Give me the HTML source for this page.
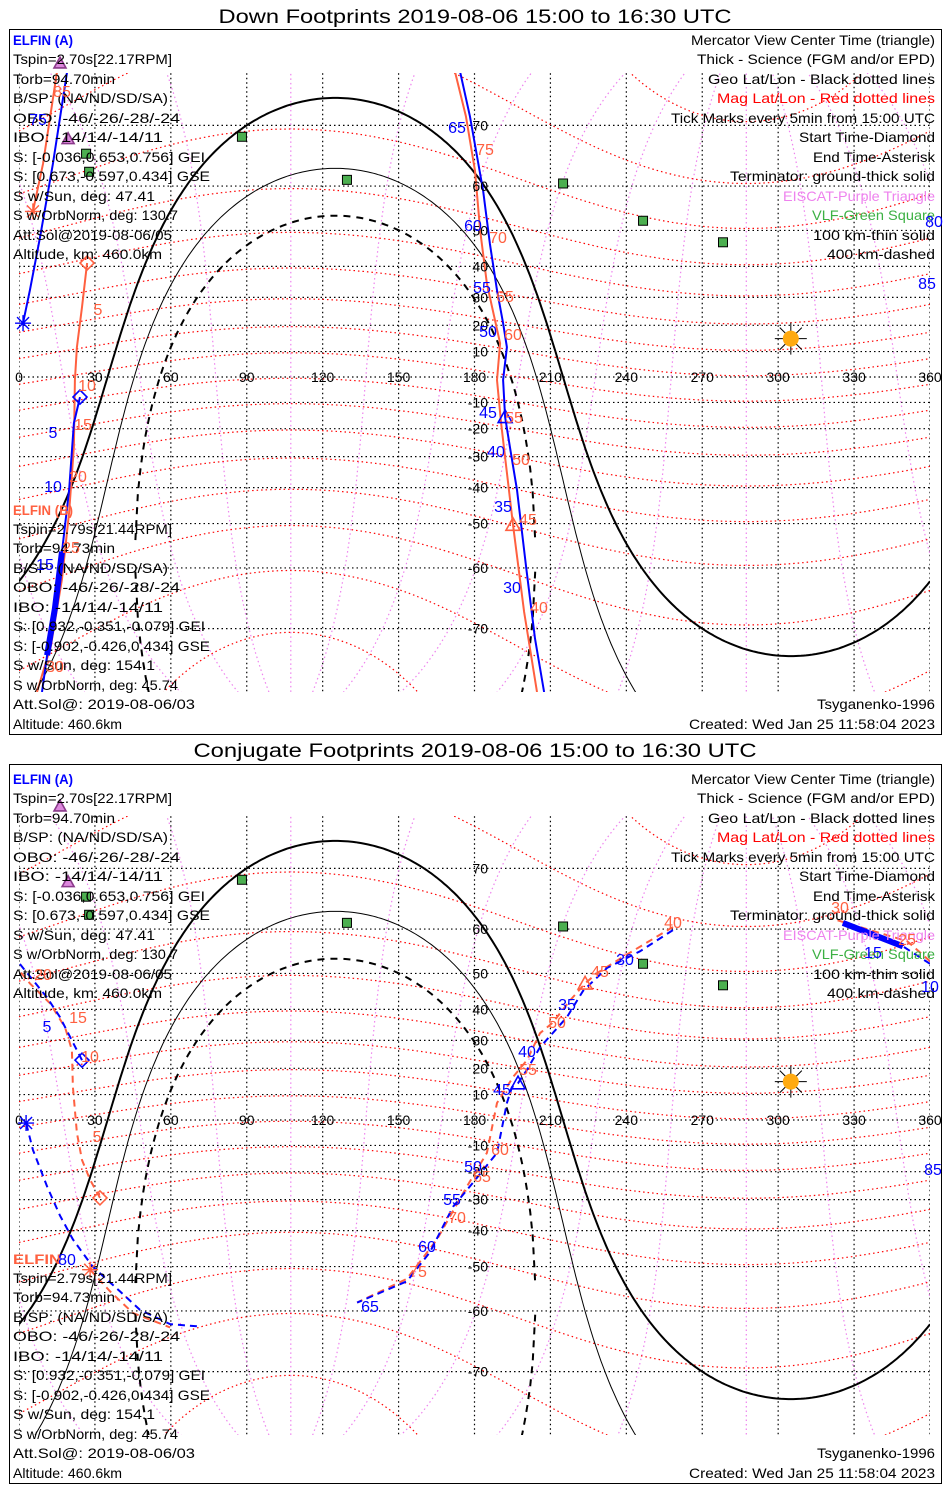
<!DOCTYPE html>
<html><head><meta charset="utf-8"><title>ELFIN Footprints</title>
<style>
html,body{margin:0;padding:0;background:#fff;}
svg{display:block;font-family:"Liberation Sans",sans-serif;}
.t{font-size:14px;}
.tk{font-size:16px;text-anchor:middle;}
.lat{font-size:14px;text-anchor:end;}
.lon{font-size:14px;text-anchor:middle;}
.b{fill:#0000ff;} .o{fill:#ff6040;}
</style></head>
<body>
<svg id="chart" width="950" height="1500" viewBox="0 0 950 1500" xmlns="http://www.w3.org/2000/svg">
<defs>
<clipPath id="clip1"><rect x="19" y="73" width="911" height="619"/></clipPath>
<clipPath id="clip2"><rect x="19" y="816" width="911" height="619"/></clipPath>
</defs>
<rect x="0" y="0" width="950" height="1500" fill="#fff"/>
<text x="475" y="23" font-size="19" text-anchor="middle" textLength="513" lengthAdjust="spacingAndGlyphs">Down Footprints 2019-08-06 15:00 to 16:30 UTC</text>
<rect x="9.5" y="29.5" width="932" height="705" fill="none" stroke="#000"/>
<text x="475" y="757" font-size="19" text-anchor="middle" textLength="563" lengthAdjust="spacingAndGlyphs">Conjugate Footprints 2019-08-06 15:00 to 16:30 UTC</text>
<rect x="9.5" y="764.5" width="932" height="719" fill="none" stroke="#000"/>
<g id="map1" clip-path="url(#clip1)"></g>
<g id="map2" clip-path="url(#clip2)"></g>
<g id="labels1"></g>
<g id="labels2"></g>
<g id="marks"></g>

<g class="t">
<text x="13" y="45" fill="#0000ff" font-weight="bold" textLength="60" lengthAdjust="spacingAndGlyphs">ELFIN (A)</text>
<text x="13" y="64" textLength="159" lengthAdjust="spacingAndGlyphs">Tspin=2.70s[22.17RPM]</text>
<text x="13" y="84" textLength="102" lengthAdjust="spacingAndGlyphs">Torb=94.70min</text>
<text x="13" y="103" textLength="155" lengthAdjust="spacingAndGlyphs">B/SP: (NA/ND/SD/SA)</text>
<text x="13" y="123" textLength="167" lengthAdjust="spacingAndGlyphs">OBO: -46/-26/-28/-24</text>
<text x="13" y="142" textLength="150" lengthAdjust="spacingAndGlyphs">IBO: -14/14/-14/11</text>
<text x="13" y="162" textLength="192" lengthAdjust="spacingAndGlyphs">S: [-0.036,0.653,0.756] GEI</text>
<text x="13" y="181" textLength="197" lengthAdjust="spacingAndGlyphs">S: [0.673,-0.597,0.434] GSE</text>
<text x="13" y="201" textLength="142" lengthAdjust="spacingAndGlyphs">S w/Sun, deg: 47.41</text>
<text x="13" y="220" textLength="165" lengthAdjust="spacingAndGlyphs">S w/OrbNorm, deg: 130.7</text>
<text x="13" y="240" textLength="159" lengthAdjust="spacingAndGlyphs">Att.Sol@2019-08-06/05</text>
<text x="13" y="259" textLength="149" lengthAdjust="spacingAndGlyphs">Altitude, km: 460.0km</text>
</g>
<g class="t">
<text x="13" y="515" fill="#ff6040" font-weight="bold" textLength="60" lengthAdjust="spacingAndGlyphs">ELFIN (B)</text>
<text x="13" y="534" textLength="159" lengthAdjust="spacingAndGlyphs">Tspin=2.79s[21.44RPM]</text>
<text x="13" y="553" textLength="102" lengthAdjust="spacingAndGlyphs">Torb=94.73min</text>
<text x="13" y="573" textLength="155" lengthAdjust="spacingAndGlyphs">B/SP: (NA/ND/SD/SA)</text>
<text x="13" y="592" textLength="167" lengthAdjust="spacingAndGlyphs">OBO: -46/-26/-28/-24</text>
<text x="13" y="612" textLength="150" lengthAdjust="spacingAndGlyphs">IBO: -14/14/-14/11</text>
<text x="13" y="631" textLength="192" lengthAdjust="spacingAndGlyphs">S: [0.932,-0.351,-0.079] GEI</text>
<text x="13" y="651" textLength="197" lengthAdjust="spacingAndGlyphs">S: [-0.902,-0.426,0.434] GSE</text>
<text x="13" y="670" textLength="142" lengthAdjust="spacingAndGlyphs">S w/Sun, deg: 154.1</text>
<text x="13" y="690" textLength="165" lengthAdjust="spacingAndGlyphs">S w/OrbNorm, deg: 45.74</text>
<text x="13" y="709" textLength="182" lengthAdjust="spacingAndGlyphs">Att.Sol@: 2019-08-06/03</text>
<text x="13" y="729" textLength="109" lengthAdjust="spacingAndGlyphs">Altitude: 460.6km</text>
</g>
<g class="t" text-anchor="end">
<text x="935" y="45" textLength="244" lengthAdjust="spacingAndGlyphs">Mercator View Center Time (triangle)</text>
<text x="935" y="64" textLength="238" lengthAdjust="spacingAndGlyphs">Thick - Science (FGM and/or EPD)</text>
<text x="935" y="84" textLength="227" lengthAdjust="spacingAndGlyphs">Geo Lat/Lon - Black dotted lines</text>
<text x="935" y="103" fill="#ff0000" textLength="218" lengthAdjust="spacingAndGlyphs">Mag Lat/Lon - Red dotted lines</text>
<text x="935" y="123" textLength="264" lengthAdjust="spacingAndGlyphs">Tick Marks every 5min from 15:00 UTC</text>
<text x="935" y="142" textLength="136" lengthAdjust="spacingAndGlyphs">Start Time-Diamond</text>
<text x="935" y="162" textLength="122" lengthAdjust="spacingAndGlyphs">End Time-Asterisk</text>
<text x="935" y="181" textLength="205" lengthAdjust="spacingAndGlyphs">Terminator: ground-thick solid</text>
<text x="935" y="201" fill="#ee82ee" textLength="152" lengthAdjust="spacingAndGlyphs">EISCAT-Purple Triangle</text>
<text x="935" y="220" fill="#3cb043" textLength="123" lengthAdjust="spacingAndGlyphs">VLF-Green Square</text>
<text x="935" y="240" textLength="122" lengthAdjust="spacingAndGlyphs">100 km-thin solid</text>
<text x="935" y="259" textLength="108" lengthAdjust="spacingAndGlyphs">400 km-dashed</text>
<text x="935" y="709" textLength="118" lengthAdjust="spacingAndGlyphs">Tsyganenko-1996</text>
<text x="935" y="729" textLength="246" lengthAdjust="spacingAndGlyphs">Created: Wed Jan 25 11:58:04 2023</text>
</g>

<g class="t">
<text x="13" y="784" fill="#0000ff" font-weight="bold" textLength="60" lengthAdjust="spacingAndGlyphs">ELFIN (A)</text>
<text x="13" y="803" textLength="159" lengthAdjust="spacingAndGlyphs">Tspin=2.70s[22.17RPM]</text>
<text x="13" y="823" textLength="102" lengthAdjust="spacingAndGlyphs">Torb=94.70min</text>
<text x="13" y="842" textLength="155" lengthAdjust="spacingAndGlyphs">B/SP: (NA/ND/SD/SA)</text>
<text x="13" y="862" textLength="167" lengthAdjust="spacingAndGlyphs">OBO: -46/-26/-28/-24</text>
<text x="13" y="881" textLength="150" lengthAdjust="spacingAndGlyphs">IBO: -14/14/-14/11</text>
<text x="13" y="901" textLength="192" lengthAdjust="spacingAndGlyphs">S: [-0.036,0.653,0.756] GEI</text>
<text x="13" y="920" textLength="197" lengthAdjust="spacingAndGlyphs">S: [0.673,-0.597,0.434] GSE</text>
<text x="13" y="940" textLength="142" lengthAdjust="spacingAndGlyphs">S w/Sun, deg: 47.41</text>
<text x="13" y="959" textLength="165" lengthAdjust="spacingAndGlyphs">S w/OrbNorm, deg: 130.7</text>
<text x="13" y="979" textLength="159" lengthAdjust="spacingAndGlyphs">Att.Sol@2019-08-06/05</text>
<text x="13" y="998" textLength="149" lengthAdjust="spacingAndGlyphs">Altitude, km: 460.0km</text>
</g>
<g class="t">
<text x="13" y="1264" fill="#ff6040" font-weight="bold" textLength="48" lengthAdjust="spacingAndGlyphs">ELFIN</text>
<text x="13" y="1283" textLength="159" lengthAdjust="spacingAndGlyphs">Tspin=2.79s[21.44RPM]</text>
<text x="13" y="1302" textLength="102" lengthAdjust="spacingAndGlyphs">Torb=94.73min</text>
<text x="13" y="1322" textLength="155" lengthAdjust="spacingAndGlyphs">B/SP: (NA/ND/SD/SA)</text>
<text x="13" y="1341" textLength="167" lengthAdjust="spacingAndGlyphs">OBO: -46/-26/-28/-24</text>
<text x="13" y="1361" textLength="150" lengthAdjust="spacingAndGlyphs">IBO: -14/14/-14/11</text>
<text x="13" y="1380" textLength="192" lengthAdjust="spacingAndGlyphs">S: [0.932,-0.351,-0.079] GEI</text>
<text x="13" y="1400" textLength="197" lengthAdjust="spacingAndGlyphs">S: [-0.902,-0.426,0.434] GSE</text>
<text x="13" y="1419" textLength="142" lengthAdjust="spacingAndGlyphs">S w/Sun, deg: 154.1</text>
<text x="13" y="1439" textLength="165" lengthAdjust="spacingAndGlyphs">S w/OrbNorm, deg: 45.74</text>
<text x="13" y="1458" textLength="182" lengthAdjust="spacingAndGlyphs">Att.Sol@: 2019-08-06/03</text>
<text x="13" y="1478" textLength="109" lengthAdjust="spacingAndGlyphs">Altitude: 460.6km</text>
</g>
<g class="t" text-anchor="end">
<text x="935" y="784" textLength="244" lengthAdjust="spacingAndGlyphs">Mercator View Center Time (triangle)</text>
<text x="935" y="803" textLength="238" lengthAdjust="spacingAndGlyphs">Thick - Science (FGM and/or EPD)</text>
<text x="935" y="823" textLength="227" lengthAdjust="spacingAndGlyphs">Geo Lat/Lon - Black dotted lines</text>
<text x="935" y="842" fill="#ff0000" textLength="218" lengthAdjust="spacingAndGlyphs">Mag Lat/Lon - Red dotted lines</text>
<text x="935" y="862" textLength="264" lengthAdjust="spacingAndGlyphs">Tick Marks every 5min from 15:00 UTC</text>
<text x="935" y="881" textLength="136" lengthAdjust="spacingAndGlyphs">Start Time-Diamond</text>
<text x="935" y="901" textLength="122" lengthAdjust="spacingAndGlyphs">End Time-Asterisk</text>
<text x="935" y="920" textLength="205" lengthAdjust="spacingAndGlyphs">Terminator: ground-thick solid</text>
<text x="935" y="940" fill="#ee82ee" textLength="152" lengthAdjust="spacingAndGlyphs">EISCAT-Purple Triangle</text>
<text x="935" y="959" fill="#3cb043" textLength="123" lengthAdjust="spacingAndGlyphs">VLF-Green Square</text>
<text x="935" y="979" textLength="122" lengthAdjust="spacingAndGlyphs">100 km-thin solid</text>
<text x="935" y="998" textLength="108" lengthAdjust="spacingAndGlyphs">400 km-dashed</text>
<text x="935" y="1458" textLength="118" lengthAdjust="spacingAndGlyphs">Tsyganenko-1996</text>
<text x="935" y="1478" textLength="246" lengthAdjust="spacingAndGlyphs">Created: Wed Jan 25 11:58:04 2023</text>
</g>

<g>
<text class="tk b" x="38" y="125">75</text><text class="tk b" x="457" y="133">65</text>
<text class="tk b" x="473" y="231">60</text><text class="tk b" x="482" y="293">55</text>
<text class="tk b" x="488" y="337">50</text><text class="tk b" x="488" y="418">45</text>
<text class="tk b" x="496" y="457">40</text><text class="tk b" x="503" y="512">35</text>
<text class="tk b" x="512" y="593">30</text><text class="tk b" x="934" y="227">80</text>
<text class="tk b" x="927" y="289">85</text><text class="tk b" x="53" y="438">5</text>
<text class="tk b" x="53" y="492">10</text><text class="tk b" x="45" y="570">15</text>
</g>
<g>
<text class="tk o" x="62" y="97">85</text><text class="tk o" x="98" y="315">5</text>
<text class="tk o" x="87" y="391">10</text><text class="tk o" x="83" y="430">15</text>
<text class="tk o" x="78" y="482">20</text><text class="tk o" x="71" y="553">25</text>
<text class="tk o" x="55" y="672">30</text><text class="tk o" x="485" y="155">75</text>
<text class="tk o" x="498" y="243">70</text><text class="tk o" x="505" y="302">65</text>
<text class="tk o" x="513" y="340">60</text><text class="tk o" x="514" y="423">55</text>
<text class="tk o" x="521" y="465">50</text><text class="tk o" x="528" y="525">45</text>
<text class="tk o" x="539" y="613">40</text>
</g>
<g>
<text class="tk b" x="47" y="1032">5</text><text class="tk b" x="67" y="1265">80</text>
<text class="tk b" x="933" y="1175">85</text><text class="tk b" x="930" y="992">10</text>
<text class="tk b" x="873" y="958">15</text><text class="tk b" x="625" y="965">30</text>
<text class="tk b" x="567" y="1010">35</text><text class="tk b" x="527" y="1057">40</text>
<text class="tk b" x="502" y="1095">45</text><text class="tk b" x="473" y="1172">50</text>
<text class="tk b" x="452" y="1205">55</text><text class="tk b" x="427" y="1252">60</text>
<text class="tk b" x="370" y="1312">65</text>
</g>
<g>
<text class="tk o" x="43" y="980">20</text><text class="tk o" x="78" y="1023">15</text>
<text class="tk o" x="90" y="1062">10</text><text class="tk o" x="97" y="1142">5</text>
<text class="tk o" x="840" y="913">30</text><text class="tk o" x="907" y="945">25</text>
<text class="tk o" x="673" y="928">40</text><text class="tk o" x="600" y="977">45</text>
<text class="tk o" x="557" y="1028">50</text><text class="tk o" x="528" y="1075">55</text>
<text class="tk o" x="500" y="1155">60</text><text class="tk o" x="482" y="1182">65</text>
<text class="tk o" x="457" y="1223">70</text><text class="tk o" x="418" y="1277">75</text>
</g>
</svg>
<script>
// ---------- data ----------
const sunPos = [305, 15];
const sunDecl = [16.6];
const termAltKm = [0, 100, 400];
const magPole = [287.4, 80.5];
const magLatLevels = [-80,-70,-60,-50,-40,-30,-20,-10,0,10,20,30,40,50,60,70,80];
const magLonLevels = [0,30,60,90,120,150,180,210,240,270,300,330];
const gridLons = [0,30,60,90,120,150,180,210,240,270,300,330,360];
const gridLats = [-70,-60,-50,-40,-30,-20,-10,0,10,20,30,40,50,60,70];
const lonTickLabels = ["0","30","60","90","120","150","180","210","240","270","300","330","360"];
const latTickLabels = ["70","60","50","40","30","20","10","-10","-20","-30","-40","-50","-60","-70"];
const latTickValues = [70,60,50,40,30,20,10,-10,-20,-30,-40,-50,-60,-70];
const vlfLon = [26.5, 27.7, 88.1, 129.6, 215.0, 246.6, 278.2];
const vlfLat = [65.8, 62.7, 68.4, 61.2, 60.5, 52.4, 46.9];
const eiscatLon = [16.2, 19.4];
const eiscatLat = [76.9, 68.1];

const p1A1Lon = [24.1,21.7,19.8,17.0,14.2,11.1,9.1];
const p1A1Lat = [-7.9,-17.9,-40.8,-56.6,-67.1,-73.3,-77];
const p1AThickLon = [17.0,14.2,11.1];
const p1AThickLat = [-56.6,-67.1,-73.3];
const p1A2Lon = [207.5,203.9,200.4,196.8,194.0,192.1,191.3,192.8,191.3,188.9,186.1,183.4,178.2,174.3];
const p1A2Lat = [-77,-71.3,-59.8,-40.7,-26.6,-15.6,-1.2,11.7,20.8,32.4,46.5,59.1,71.2,76.1];
const p1A3Lon = [19.0,13.4,8.3,4.3,1.6];
const p1A3Lat = [76.1,64.1,48.2,32.4,20.8];
const p1B1Lon = [26.9,24.9,22.9,22.1,21.7,19.8,17.0,12.6,7.1];
const p1B1Lat = [41.0,26.6,11.7,-1.2,-26.6,-47.1,-62.1,-72.2,-77];
const p1B2Lon = [204.7,199.6,195.2,190.5,188.9,190.1,184.9,182.2,180.2,176.6,172.3];
const p1B2Lat = [-77,-67.6,-50.3,-17.9,-1.2,13.2,34.6,50.1,62.9,71.2,76.1];
const p1B3Lon = [15.0,9.5,5.5];
const p1B3Lat = [76.1,64.1,54.6];
const p1AStart = [24.1,-7.9], p1AEnd = [1.6,20.8], p1AMid = [192.1,-15.6];
const p1BStart = [26.9,41.0], p1BEnd = [5.5,54.6], p1BMid = [195.2,-50.3];

const p2A1Lon = [24.9,16.2,11.1,1.6,0];
const p2A1Lat = [23.0,37.6,43.5,51.4,52.6];
const p2A2Lon = [360,349.3,325.6];
const p2A2Lat = [52.4,56.4,61.2];
const p2AThickLon = [349.3,325.6];
const p2AThickLat = [56.4,61.2];
const p2A3Lon = [258.4,245.4,232.4,222.9,216.5,205.9,200.7,197.2,194.8,192.8,188.9,179.4,171.5,162.4,153.3,133.6];
const p2A3Lat = [59.8,55.3,51.4,45.4,37.6,27.6,19.4,14.4,12.9,6.7,-12.9,-24.0,-32.4,-46.2,-53.6,-58.3];
const p2A4Lon = [70.3,59.7,47.8,39.9,29.2,21.3,16.2,11.1,5.5,2.8];
const p2A4Lat = [-62.9,-62.5,-59.8,-55.9,-50.1,-42.6,-35.3,-25.4,-11.7,-1.2];
const p2B1Lon = [32.0,28.1,24.9,22.9,21.3,20.9,18.2,12.3,4.3,0];
const p2B1Lat = [-29.4,-23.0,-15.6,-5.1,12.9,26.6,34.3,41.8,47.4,50.8];
const p2B2Lon = [360,351,331,320.5];
const p2B2Lat = [53.0,57.5,60.6,62.1];
const p2B3Lon = [258.4,240.3,228.4,223.7,217.7,211.0,205.9,200.7,195.2,188.9,184.9,177.0,165.2,153.3,133.6];
const p2B3Lat = [60.4,54.6,50.1,47.4,42.6,35.9,32.4,23.0,16.7,6.7,-12.9,-25.4,-42.6,-53.0,-58.3];
const p2B4Lon = [28.1,36.0,45.0,59.7];
const p2B4Lat = [-50.8,-55.9,-60.4,-63.1];
const p2AStart = [24.9,23.0], p2AEnd = [2.8,-1.2], p2AMid = [197.2,14.4];
const p2BStart = [32.0,-29.4], p2BEnd = [28.1,-50.8], p2BMid = [223.7,47.4];

// ---------- helpers ----------
const NS = "http://www.w3.org/2000/svg";
const D = Math.PI/180;
const EQ = [377, 1120];
function X(lon){ return 19 + lon*911/360; }
function Y(lat, p){ const l = Math.max(-85, Math.min(85, lat)); return EQ[p] - 145*Math.log(Math.tan(Math.PI/4 + l*D/2)); }
function mk(tag, parent){ const e = document.createElementNS(NS, tag); parent.appendChild(e); return e; }
function pathFromSegs(segs, p){
  let d = "";
  segs.forEach(s => { if (s.length < 2) return; s.forEach((pt,i) => { d += (i ? "L" : "M") + X(pt[0]).toFixed(1) + "," + Y(pt[1],p).toFixed(1); }); });
  return d;
}
function solveLat(A, B, C){
  const R = Math.hypot(A, B); if (Math.abs(C) > R) return [null, null];
  const s = Math.asin(C/R), ps = Math.atan2(B, A);
  const norm = v => { while (v > Math.PI) v -= 2*Math.PI; while (v < -Math.PI) v += 2*Math.PI; return v; };
  const l1 = norm(s - ps), l2 = norm(Math.PI - s - ps);
  return [Math.abs(l1) <= Math.PI/2 ? l1/D : null, Math.abs(l2) <= Math.PI/2 ? l2/D : null];
}
function circleSegs(Afn, Bfn, C){
  const out = [];
  for (let br = 0; br < 2; br++){
    let cur = [];
    for (let lon = 0; lon <= 360; lon += 1){
      const v = solveLat(Afn(lon), Bfn(lon), C)[br];
      if (v === null || (cur.length && Math.abs(v - cur[cur.length-1][1]) > 15)){ if (cur.length) out.push(cur); cur = []; }
      if (v !== null) cur.push([lon, v]);
    }
    if (cur.length) out.push(cur);
  }
  return out;
}
function magToGeo(mlat, mlon){
  const pl = magPole[0]*D, pp = magPole[1]*D;
  const e3 = [Math.cos(pp)*Math.cos(pl), Math.cos(pp)*Math.sin(pl), Math.sin(pp)];
  const e2 = [-Math.sin(pl), Math.cos(pl), 0];
  const e1 = [Math.cos(pl)*Math.sin(pp), Math.sin(pl)*Math.sin(pp), -Math.cos(pp)];
  const x = Math.cos(mlat*D)*Math.cos(mlon*D), y = Math.cos(mlat*D)*Math.sin(mlon*D), z = Math.sin(mlat*D);
  const v = [0,1,2].map(i => x*e1[i] + y*e2[i] + z*e3[i]);
  let lon = Math.atan2(v[1], v[0])/D; if (lon < 0) lon += 360;
  return [lon, Math.asin(v[2])/D];
}

function drawPanel(p, g, lg){
  gridLons.forEach(lon => {
    const l = mk("line", g);
    
    
    l.setAttribute("x1", X(lon)); l.setAttribute("x2", X(lon)); l.setAttribute("y1", Y(80,p)); l.setAttribute("y2", Y(-80,p));
    l.setAttribute("stroke", "#000"); l.setAttribute("stroke-width", "1.2"); l.setAttribute("stroke-dasharray", "1.5 3");
  });
  gridLats.forEach(lat => {
    const l = mk("line", g);
    
    
    l.setAttribute("x1", X(0)); l.setAttribute("x2", X(360)); l.setAttribute("y1", Y(lat,p)); l.setAttribute("y2", Y(lat,p));
    l.setAttribute("stroke", "#000"); l.setAttribute("stroke-width", "1.2"); l.setAttribute("stroke-dasharray", "1.5 3");
  });
  magLonLevels.forEach(ml => {
    const segs = []; let cur = [], prev = null;
    for (let m = -88; m <= 88; m += 1){
      const q = magToGeo(m, ml);
      if (prev && Math.abs(q[0] - prev[0]) > 180){ segs.push(cur); cur = []; }
      cur.push(q); prev = q;
    }
    segs.push(cur);
    const e = mk("path", g);
    
    
    e.setAttribute("d", pathFromSegs(segs, p)); e.setAttribute("fill", "none");
    e.setAttribute("stroke", "#ee82ee"); e.setAttribute("stroke-width", "1.2"); e.setAttribute("stroke-dasharray", "1.5 3");
  });
  const A = () => Math.sin(magPole[1]*D), Bf = lon => Math.cos(magPole[1]*D)*Math.cos((lon - magPole[0])*D);
  magLatLevels.forEach(m => {
    const e = mk("path", g);
    
    
    e.setAttribute("d", pathFromSegs(circleSegs(A, Bf, Math.sin(m*D)), p)); e.setAttribute("fill", "none");
    e.setAttribute("stroke", "#ff0000"); e.setAttribute("stroke-width", "1.2"); e.setAttribute("stroke-dasharray", "1.5 3");
  });
  const dec = sunDecl[0]*D;
  const tA = () => Math.sin(dec), tB = lon => Math.cos(dec)*Math.cos((lon - sunPos[0])*D);
  termAltKm.forEach((h, i) => {
    const dip = Math.acos(6371/(6371 + h));
    const e = mk("path", g);
    
    
    e.setAttribute("d", pathFromSegs(circleSegs(tA, tB, -Math.sin(dip)), p)); e.setAttribute("fill", "none");
    e.setAttribute("stroke", "#000"); e.setAttribute("stroke-width", i === 1 ? "1" : "2");
    if (i === 2) e.setAttribute("stroke-dasharray", "7 6");
  });
  gridLons.forEach((lon, i) => {
    const t = mk("text", lg);
    
    
    t.setAttribute("class", "lon"); t.setAttribute("x", X(lon)); t.setAttribute("y", EQ[p] + 5);
    t.textContent = lonTickLabels[i];
  });
  latTickValues.forEach((lat, i) => {
    const t = mk("text", lg);
    
    
    t.setAttribute("class", "lat"); t.setAttribute("x", 488); t.setAttribute("y", Y(lat,p) + 5);
    t.textContent = latTickLabels[i];
  });
}

function track(g, p, lons, lats, color, width, dashed, name){
  const e = mk("path", g);
  
  
  e.setAttribute("d", pathFromSegs([lons.map((v,i) => [v, lats[i]])], p));
  e.setAttribute("fill", "none"); e.setAttribute("stroke", color); e.setAttribute("stroke-width", width);
  e.setAttribute("stroke-linejoin", "round");
  if (dashed) e.setAttribute("stroke-dasharray", "7 5");
}
function diamond(g, p, pt, color){
  const x = X(pt[0]), y = Y(pt[1],p), e = mk("polygon", g);
  
  
  e.setAttribute("points", `${x},${y-7} ${x+7},${y} ${x},${y+7} ${x-7},${y}`);
  e.setAttribute("fill", "none"); e.setAttribute("stroke", color); e.setAttribute("stroke-width", "1.6");
}
function asterisk(g, p, pt, color){
  const x = X(pt[0]), y = Y(pt[1],p), e = mk("path", g);
  
  
  e.setAttribute("d", `M${x-8},${y}H${x+8}M${x},${y-8}V${y+8}M${x-6},${y-6}L${x+6},${y+6}M${x-6},${y+6}L${x+6},${y-6}`);
  e.setAttribute("stroke", color); e.setAttribute("stroke-width", "1.4");
}
function triangle(g, p, pt, color, fill, name, s){
  const x = X(pt[0]), y = Y(pt[1],p), e = mk("polygon", g);
  
  
  e.setAttribute("points", `${x},${y-s} ${x+s},${y+s*0.8} ${x-s},${y+s*0.8}`);
  e.setAttribute("fill", fill); e.setAttribute("stroke", color); e.setAttribute("stroke-width", "1.6");
}
function stations(g, p){
  vlfLon.forEach((lon, i) => {
    const x = X(lon), y = Y(vlfLat[i], p), e = mk("rect", g);
    
    
    e.setAttribute("x", x-4.5); e.setAttribute("y", y-4.5); e.setAttribute("width", 9); e.setAttribute("height", 9);
    e.setAttribute("fill", "#4caf50"); e.setAttribute("stroke", "#000"); e.setAttribute("stroke-width", "1");
  });
  eiscatLon.forEach((lon, i) => triangle(g, p, [lon, eiscatLat[i]], "#8a3a8a", "#dd88dd", "eiscat-station", 6));
}
function sun(g, p){
  const x = X(sunPos[0]), y = Y(sunPos[1], p);
  const r = mk("path", g);
  
  
  r.setAttribute("d", `M${x-16},${y}H${x+16}M${x},${y-16}V${y+16}M${x-11},${y-11}L${x+11},${y+11}M${x-11},${y+11}L${x+11},${y-11}`);
  r.setAttribute("stroke", "#000"); r.setAttribute("stroke-width", "1");
  const c = mk("circle", g);
  
  
  c.setAttribute("cx", x); c.setAttribute("cy", y); c.setAttribute("r", 8); c.setAttribute("fill", "#ffaa11");
}

const BL = "#0000ff", OR = "#ff6040";
const g1 = document.getElementById("map1"), g2 = document.getElementById("map2");
drawPanel(0, g1, document.getElementById("labels1"));
drawPanel(1, g2, document.getElementById("labels2"));
const mg = document.getElementById("marks");
[0,1].forEach(p => { stations(mg, p); sun(mg, p); });

track(g1, 0, p1B1Lon, p1B1Lat, OR, 2, false, 'track-b-down-1');
track(g1, 0, p1B2Lon, p1B2Lat, OR, 2, false, 'track-b-down-2');
track(g1, 0, p1B3Lon, p1B3Lat, OR, 2, false, 'track-b-down-3');
track(g1, 0, p1A1Lon, p1A1Lat, BL, 2, false, 'track-a-down-1');
track(g1, 0, p1AThickLon, p1AThickLat, BL, 6, false, 'track-a-down-science');
track(g1, 0, p1A2Lon, p1A2Lat, BL, 2, false, 'track-a-down-2');
track(g1, 0, p1A3Lon, p1A3Lat, BL, 2, false, 'track-a-down-3');
diamond(mg, 0, p1AStart, BL); asterisk(mg, 0, p1AEnd, BL); triangle(mg, 0, p1AMid, BL, "none", 'center-triangle-a', 7);
diamond(mg, 0, p1BStart, OR); asterisk(mg, 0, p1BEnd, OR); triangle(mg, 0, p1BMid, OR, "none", 'center-triangle-b', 7);

track(g2, 1, p2B1Lon, p2B1Lat, OR, 2, true, 'track-b-conj-1');
track(g2, 1, p2B2Lon, p2B2Lat, OR, 2, true, 'track-b-conj-2');
track(g2, 1, p2B3Lon, p2B3Lat, OR, 2, true, 'track-b-conj-3');
track(g2, 1, p2B4Lon, p2B4Lat, OR, 2, true, 'track-b-conj-4');
track(g2, 1, p2A1Lon, p2A1Lat, BL, 2, true, 'track-a-conj-1');
track(g2, 1, p2A2Lon, p2A2Lat, BL, 2, true, 'track-a-conj-2');
track(g2, 1, p2AThickLon, p2AThickLat, BL, 6, false, 'track-a-conj-science');
track(g2, 1, p2A3Lon, p2A3Lat, BL, 2, true, 'track-a-conj-3');
track(g2, 1, p2A4Lon, p2A4Lat, BL, 2, true, 'track-a-conj-4');
diamond(mg, 1, p2AStart, BL); asterisk(mg, 1, p2AEnd, BL); triangle(mg, 1, p2AMid, BL, "none", 'center-triangle-a', 7);
diamond(mg, 1, p2BStart, OR); asterisk(mg, 1, p2BEnd, OR); triangle(mg, 1, p2BMid, OR, "none", 'center-triangle-b', 7);
</script>
</body></html>
